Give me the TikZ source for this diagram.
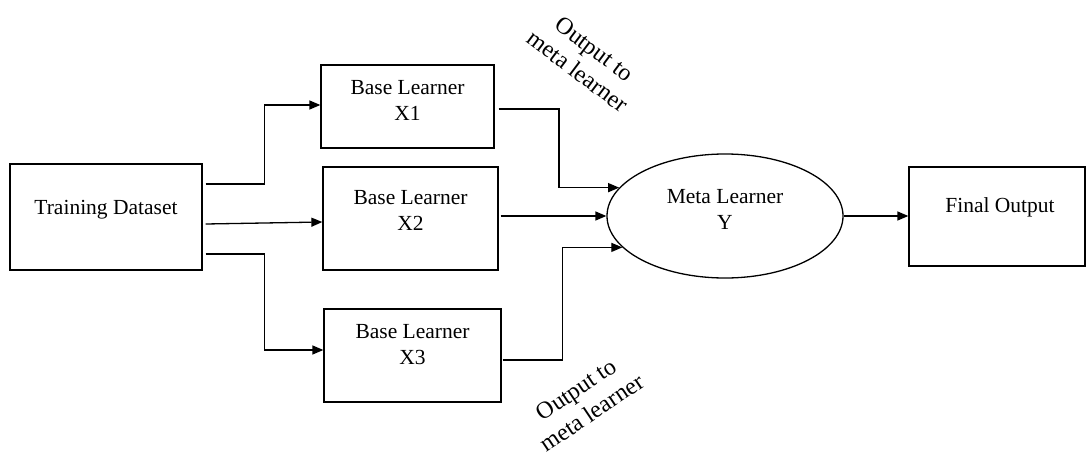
\documentclass[tikz,border=0pt]{standalone}
\usepackage{fontspec}
\setmainfont{Liberation Serif}
\usetikzlibrary{shapes.geometric,arrows.meta,calc}

\begin{document}
\begin{tikzpicture}[x=1pt,y=-1pt,
  every node/.style={font=\fontsize{21.5}{26}\selectfont},
  box/.style={draw,line width=1.3pt,rectangle,inner sep=0pt},
  txt/.style={align=center,inner sep=0pt},
  note/.style={align=center,inner sep=0pt,font=\fontsize{24}{28}\selectfont},
  arr/.style={line width=1.3pt,-{Triangle[length=11pt,width=9pt]}}]
  \useasboundingbox (0,0) rectangle (1087,455);

  % data source
  \node[box,minimum width=192,minimum height=106,
        label={[txt,yshift=7pt]center:Training Dataset}] (td) at (106,217) {};

  % base learners
  \node[box,minimum width=173,minimum height=83,
        label={[txt,yshift=6.5pt]center:Base Learner\\X1}] (x1) at (407.5,106.5) {};
  \node[box,minimum width=175,minimum height=103,
        label={[txt,yshift=8pt]center:Base Learner\\X2}] (x2) at (410.5,218.5) {};
  \node[box,minimum width=177,minimum height=93,
        label={[txt,yshift=10.5pt]center:Base Learner\\X3}] (x3) at (412.5,355.5) {};

  % meta learner
  \node[draw,ellipse,line width=1.3pt,inner sep=0pt,minimum width=236,minimum height=124,
        label={[txt,yshift=6.5pt]center:Meta Learner\\Y}] (meta) at (725,216) {};

  % final result
  \node[box,minimum width=176,minimum height=99,
        label={[txt,xshift=3pt,yshift=9.5pt]center:Final Output}] (fin) at (997,216.5) {};

  % annotations
  \node[note,rotate=-37] (n1) at (586,60) {Output to\\meta learner};
  \node[note,rotate=34] (n2) at (584,401) {Output to\\meta learner};

  % dataset to base learners
  \coordinate (s1) at ([xshift=3pt,yshift=33pt]td.east);
  \coordinate (s2) at ([xshift=3pt,yshift=-7pt]td.east);
  \coordinate (s3) at ([xshift=3pt,yshift=-37pt]td.east);
  \draw[arr] (s1) -- ++(59,0) |- ([yshift=1.5pt]x1.west);
  \draw[arr] (s2) -- ([yshift=-3.5pt]x2.west);
  \draw[arr] (s3) -- ++(59,0) |- ([yshift=5.5pt]x3.west);

  % base learners to meta learner
  \coordinate (o1) at ([xshift=4pt,yshift=-2.5pt]x1.east);
  \coordinate (o3) at ([xshift=1pt,yshift=-4.5pt]x3.east);
  \draw[arr] (o1) -| ($(o1)!.5!(meta.165)$) |- (meta.165);
  \draw[arr] ([xshift=2pt]x2.east |- meta.west) -- (meta.west);
  \draw[arr] (o3) -| ($(o3)!.5!(meta.197)$) |- (meta.197);

  % meta learner to final output
  \draw[arr] (meta.east) -- (fin.west |- meta.east);
\end{tikzpicture}
\end{document}
